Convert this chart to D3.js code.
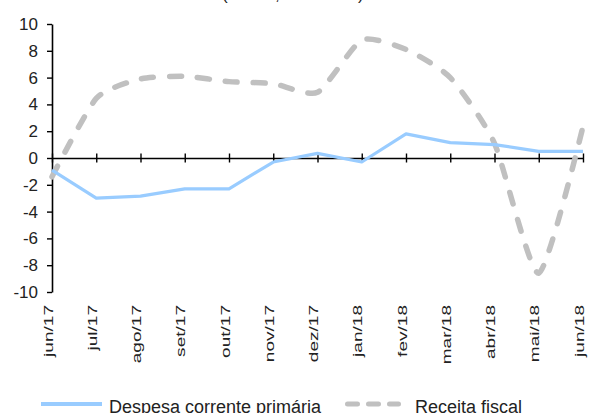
<!DOCTYPE html>
<html>
<head>
<meta charset="utf-8">
<script src="https://cdn.jsdelivr.net/npm/d3@7"></script>
<style>
  html, body { margin: 0; padding: 0; background: #fff; }
  svg { display: block; font-family: "Liberation Sans", Arial, sans-serif; }
</style>
</head>
<body>
<svg id="chart" width="593" height="413"></svg>
<script>
// Monthly categories and the two series (%)
const months = ["jun/17","jul/17","ago/17","set/17","out/17","nov/17","dez/17",
                "jan/18","fev/18","mar/18","abr/18","mai/18","jun/18"];
const despesa = [-0.9, -3.0, -2.85, -2.3, -2.3, -0.3, 0.35, -0.3, 1.8, 1.15, 1.0, 0.5, 0.5];
const receita = [-1.4, 4.45, 5.9, 6.1, 5.7, 5.55, 4.9, 8.8, 8.1, 6.0, 1.1, -8.6, 2.35];
const yTicks = [-10, -8, -6, -4, -2, 0, 2, 4, 6, 8, 10];
const seriesNames = ["Despesa corrente primária", "Receita fiscal"];
const titleText = "(var. %, 12 meses)";

const svg = d3.select("#chart");

const x = d3.scalePoint().domain(months).range([52, 583]);
const y = d3.scaleLinear().domain([-10, 10]).range([292, 24]);

// Title (sits mostly above the visible area)
svg.append("text")
  .attr("x", 222).attr("y", -0.5)
  .attr("font-size", 17).attr("fill", "#222")
  .text(titleText);

// Y axis, plain hyphen for negatives
const yAxis = svg.append("g")
  .attr("transform", `translate(${x(months[0])},0)`)
  .call(d3.axisLeft(y).tickValues(yTicks).tickSize(5).tickSizeOuter(0).tickPadding(9)
    .tickFormat(d => String(d)));
yAxis.select(".domain").attr("stroke", "#000").attr("stroke-width", 1.6);
yAxis.selectAll(".tick line").attr("stroke", "#000").attr("stroke-width", 1.4);
yAxis.selectAll(".tick text")
  .attr("font-size", 17).attr("fill", "#222")
  .attr("font-family", "Liberation Sans, Arial, sans-serif");

// X axis along zero, ticks crossing the line
const xAxis = svg.append("g")
  .attr("transform", `translate(0,${y(0)})`)
  .call(d3.axisBottom(x).tickSize(9).tickSizeOuter(0).tickFormat(""));
xAxis.select(".domain").attr("stroke", "#000").attr("stroke-width", 1.6);
xAxis.selectAll(".tick line")
  .attr("y1", -4.5).attr("y2", 4.5)
  .attr("stroke", "#000").attr("stroke-width", 1.4);

// Rotated month labels below the plot
svg.append("g").selectAll("text")
  .data(months).join("text")
  .attr("transform", d => `translate(${x(d) + 0.5},305) rotate(-90) scale(1.27,0.84)`)
  .attr("text-anchor", "end")
  .attr("font-size", 15).attr("fill", "#222")
  .text(d => d);

// Receita fiscal: smoothed dashed grey line
const smooth = d3.line()
  .x((d, i) => x(months[i]))
  .y(d => y(d))
  .curve(d3.curveCardinal.tension(0.4));
svg.append("path")
  .datum(receita)
  .attr("d", smooth)
  .attr("fill", "none")
  .attr("stroke", "#c0c0c0")
  .attr("stroke-width", 5.5)
  .attr("stroke-linecap", "round")
  .attr("stroke-dasharray", "12,16");

// Despesa corrente primária: solid light-blue line
const straight = d3.line()
  .x((d, i) => x(months[i]))
  .y(d => y(d));
svg.append("path")
  .datum(despesa)
  .attr("d", straight)
  .attr("fill", "none")
  .attr("stroke", "#99ccff")
  .attr("stroke-width", 3.2)
  .attr("stroke-linejoin", "round");

// Legend
const legend = svg.append("g");
legend.append("line")
  .attr("x1", 41).attr("x2", 102).attr("y1", 404).attr("y2", 404)
  .attr("stroke", "#99ccff").attr("stroke-width", 4);
legend.append("text")
  .attr("x", 109).attr("y", 413)
  .attr("font-size", 18).attr("fill", "#222")
  .text(seriesNames[0]);
legend.append("line")
  .attr("x1", 347.5).attr("x2", 398.5).attr("y1", 404).attr("y2", 404)
  .attr("stroke", "#c0c0c0").attr("stroke-width", 5)
  .attr("stroke-linecap", "round")
  .attr("stroke-dasharray", "10,11");
legend.append("text")
  .attr("x", 415).attr("y", 413)
  .attr("font-size", 18).attr("fill", "#222")
  .text(seriesNames[1]);
</script>
</body>
</html>
